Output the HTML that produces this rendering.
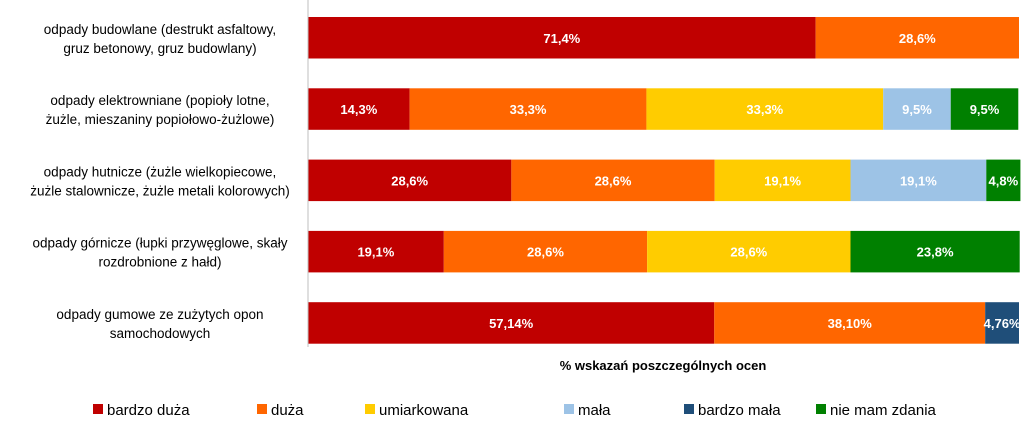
<!DOCTYPE html>
<html><head><meta charset="utf-8"><style>
body{margin:0;width:1024px;height:427px;background:#fff;overflow:hidden;font-family:"Liberation Sans",sans-serif}
svg text{font-family:"Liberation Sans",sans-serif}
</style></head><body>
<svg id="c" width="1024" height="427"></svg>
<script>
const categories=[["odpady budowlane (destrukt asfaltowy,","gruz betonowy, gruz budowlany)"],["odpady elektrowniane (popioły lotne,","żużle, mieszaniny popiołowo-żużlowe)"],["odpady hutnicze (żużle wielkopiecowe,","żużle stalownicze, żużle metali kolorowych)"],["odpady górnicze (łupki przywęglowe, skały","rozdrobnione z hałd)"],["odpady gumowe ze zużytych opon","samochodowych"]];
const seriesNames=["bardzo duża","duża","umiarkowana","mała","bardzo mała","nie mam zdania"];
const bardzoDuza=[71.4,14.3,28.6,19.1,57.14];
const duza=[28.6,33.3,28.6,28.6,38.10];
const umiarkowana=[0,33.3,19.1,28.6,0];
const mala=[0,9.5,19.1,0,0];
const bardzoMala=[0,0,0,0,4.76];
const nieMamZdania=[0,9.5,4.8,23.8,0];
const valueLabels=[["71,4%","28,6%","","","",""],["14,3%","33,3%","33,3%","9,5%","","9,5%"],["28,6%","28,6%","19,1%","19,1%","","4,8%"],["19,1%","28,6%","28,6%","","","23,8%"],["57,14%","38,10%","","","4,76%",""]];
const series=[bardzoDuza,duza,umiarkowana,mala,bardzoMala,nieMamZdania];
const colors=["#C00000","#FF6600","#FFCC00","#9DC3E6","#1F4E79","#008000"];
const NS="http://www.w3.org/2000/svg";
const svg=document.getElementById('c');
const x0=308,pxPer=7.11;
const xs=v=>x0+v*pxPer;
const yRow=i=>17+i*71.3;
const bh=41.5;
function mk(t,a){const e=document.createElementNS(NS,t);for(const k in a)e.setAttribute(k,a[k]);svg.appendChild(e);return e;}
categories.forEach((cat,i)=>{
  let acc=0;
  series.forEach((s,j)=>{
    const v=s[i];
    if(v>0){
      const r=mk('rect',{x:xs(acc),y:yRow(i),width:v*pxPer,height:bh,fill:colors[j]});
      
      
      const lbl=valueLabels[i][j];
      if(lbl){
        let cx=xs(acc+v/2);
        const t=mk('text',{x:cx,y:yRow(i)+bh/2+5,'text-anchor':'middle','font-size':'13','font-weight':'bold',fill:'#fff'});
        t.textContent=lbl;
        
        
      }
    }
    acc+=v;
  });
  cat.forEach((ln,k)=>{
    const t=mk('text',{x:160,y:yRow(i)+bh/2-3+k*18-(cat.length-1)*0+ (k===0?-1:0),'text-anchor':'middle','font-size':'13.5',fill:'#000'});
    t.textContent=ln;
    
    
  });
});
const ax=mk('line',{x1:x0,y1:0,x2:x0,y2:347,stroke:'#bfbfbf','stroke-width':1});


const at=mk('text',{x:663,y:370,'text-anchor':'middle','font-size':'13','font-weight':'bold',fill:'#000'});
at.textContent='% wskazań poszczególnych ocen';


const legX=[93,257,365,564,684,816];
seriesNames.forEach((n,j)=>{
  const r=mk('rect',{x:legX[j],y:404,width:10,height:10,fill:colors[j]});
  
  
  const t=mk('text',{x:legX[j]+14,y:415,'font-size':'15',fill:'#000'});
  t.textContent=n;
  
  
});
</script>
</body></html>
